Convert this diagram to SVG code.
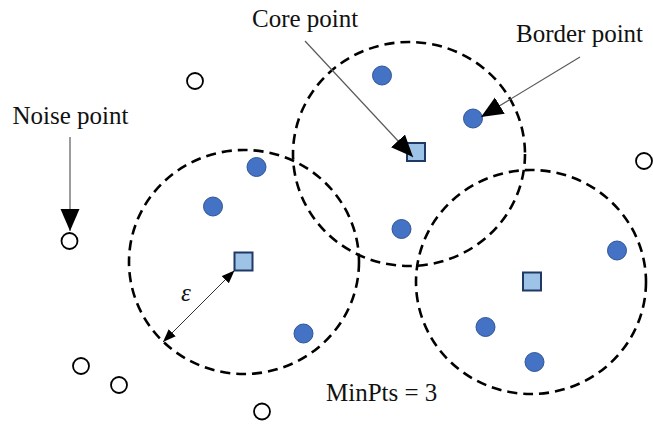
<svg xmlns="http://www.w3.org/2000/svg" width="653" height="425" viewBox="0 0 653 425">
<style>
.region{fill:none;stroke:#000;stroke-width:2.6;stroke-dasharray:10 6}
.dot{fill:#4472C4;stroke:#2F5597;stroke-width:1}
.core{fill:#9DC3E6;stroke:#1F3864;stroke-width:2}
.noise{fill:#fff;stroke:#000;stroke-width:1.8}
.lbl{font-family:"Liberation Serif","Times New Roman",serif;font-size:25px;fill:#111}
.ptr{stroke:#5a5a5a;stroke-width:1.2;fill:none}
.eps{stroke:#333;stroke-width:1;fill:none}
</style>
<defs>
<marker id="big" markerUnits="userSpaceOnUse" markerWidth="23" markerHeight="21" refX="22" refY="10.5" orient="auto">
<path d="M0,1 L22,10.5 L0,20 z" fill="#000"/>
</marker>
<marker id="small" markerUnits="userSpaceOnUse" markerWidth="13" markerHeight="10" refX="13" refY="5" orient="auto-start-reverse">
<path d="M0,0 L13,5 L0,10 z" fill="#000"/>
</marker>
</defs>
<g id="regions">
<ellipse id="region-left" class="region" cx="244" cy="262" rx="115" ry="112"/>
<ellipse id="region-top" class="region" cx="409" cy="154" rx="116" ry="112"/>
<ellipse id="region-right" class="region" cx="531" cy="282" rx="115" ry="112"/>
</g>
<g id="border-points">
<circle class="dot" cx="256.5" cy="167" r="9.5"/>
<circle class="dot" cx="213" cy="206.5" r="9.5"/>
<circle class="dot" cx="382" cy="75.5" r="9.5"/>
<circle class="dot" cx="473" cy="118.5" r="9.5"/>
<circle class="dot" cx="401.5" cy="229" r="9.5"/>
<circle class="dot" cx="303.5" cy="333.5" r="9.5"/>
<circle class="dot" cx="617" cy="250.5" r="9.5"/>
<circle class="dot" cx="485.5" cy="327" r="9.5"/>
<circle class="dot" cx="534.5" cy="362" r="9.5"/>
</g>
<g id="core-points">
<rect class="core" x="234.5" y="252.5" width="18" height="18"/>
<rect class="core" x="407" y="143" width="18" height="18"/>
<rect class="core" x="523" y="272.5" width="18" height="18"/>
</g>
<g id="noise-points">
<circle class="noise" cx="195" cy="81" r="8"/>
<circle class="noise" cx="69.5" cy="241" r="8"/>
<circle class="noise" cx="81" cy="366" r="8"/>
<circle class="noise" cx="119" cy="385" r="8"/>
<circle class="noise" cx="262" cy="411.5" r="8"/>
<circle class="noise" cx="644" cy="161" r="8"/>
</g>
<g id="connectors">
<line class="ptr" x1="70" y1="137" x2="70" y2="231" marker-end="url(#big)"/>
<line class="ptr" x1="305" y1="41" x2="413" y2="157" marker-end="url(#big)"/>
<line class="ptr" x1="580" y1="57" x2="481" y2="117" marker-end="url(#big)"/>
<line class="eps" x1="163" y1="342" x2="234.5" y2="270.5" marker-start="url(#small)" marker-end="url(#small)"/>
</g>
<g id="labels">
<text class="lbl" x="252" y="27">Core point</text>
<text class="lbl" x="516" y="42">Border point</text>
<text class="lbl" x="12.5" y="124">Noise point</text>
<text class="lbl" x="326" y="401">MinPts = 3</text>
<text class="lbl" x="181" y="301" font-style="italic">ε</text>
</g>
</svg>
